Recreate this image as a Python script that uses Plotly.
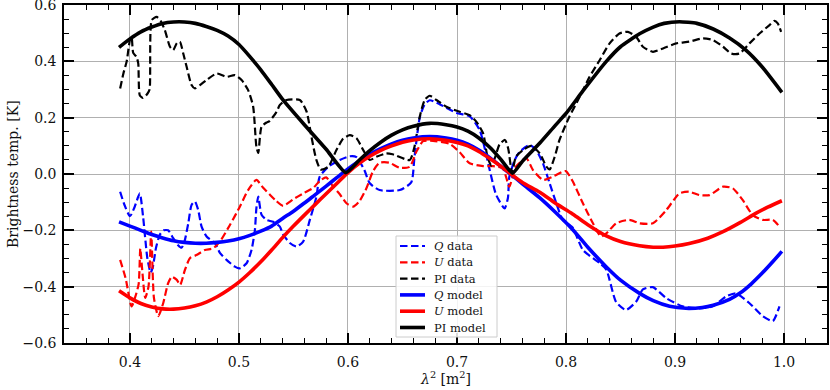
import plotly.graph_objects as go

# ---------------- data ----------------
q_data_x = [0.391, 0.395, 0.400, 0.404, 0.409, 0.412, 0.416, 0.419, 0.421, 0.424, 0.4275, 0.431, 0.435,
            0.4397, 0.444, 0.4473, 0.450, 0.4535, 0.4565, 0.4596, 0.4626, 0.4657, 0.4703, 0.478, 0.4825,
            0.4886, 0.4962, 0.5008, 0.507, 0.5115, 0.5146, 0.516, 0.5177, 0.5207, 0.5253, 0.5314, 0.5375,
            0.5405, 0.5467, 0.5528, 0.5589, 0.565, 0.5711, 0.574, 0.582, 0.5925, 0.6017, 0.6078, 0.615,
            0.620, 0.629, 0.6475, 0.658, 0.661, 0.6658, 0.670, 0.675, 0.684, 0.6995, 0.7116, 0.7208, 0.730,
            0.736, 0.7437, 0.7467, 0.748, 0.753, 0.7575, 0.7667, 0.7727, 0.7788, 0.785, 0.7911, 0.797,
            0.806, 0.8155, 0.831, 0.837, 0.846, 0.855, 0.8644, 0.8705, 0.8797, 0.892, 0.907, 0.9224,
            0.9347, 0.9469, 0.956, 0.9683, 0.9805, 0.9897, 0.9958]
q_data_y = [-0.063, -0.110, -0.150, -0.120, -0.069, -0.150, -0.300, -0.350, -0.330, -0.260, -0.215, -0.200, -0.200,
            -0.228, -0.252, -0.262, -0.240, -0.175, -0.110, -0.098, -0.128, -0.187, -0.222, -0.246, -0.280,
            -0.305, -0.329, -0.335, -0.317, -0.270, -0.199, -0.120, -0.080, -0.145, -0.163, -0.170, -0.187,
            -0.215, -0.245, -0.258, -0.240, -0.163, -0.080, -0.010, 0.026, 0.050, 0.063, 0.060, 0.014,
            -0.033, -0.057, -0.057, -0.030, 0.060, 0.200, 0.245, 0.262, 0.248, 0.217, 0.205, 0.156, 0.014,
            -0.075, -0.122, -0.085, -0.010, 0.050, 0.079, 0.103, 0.085, 0.038, -0.033, -0.104, -0.163,
            -0.190, -0.270, -0.317, -0.340, -0.455, -0.483, -0.453, -0.410, -0.402, -0.441, -0.470, -0.477,
            -0.470, -0.435, -0.424, -0.459, -0.505, -0.522, -0.470]

u_data_x = [0.391, 0.396, 0.4015, 0.405, 0.408, 0.4095, 0.411, 0.414, 0.417, 0.4195, 0.422, 0.426, 0.4305,
            0.435, 0.4384, 0.443, 0.446, 0.4504, 0.455, 0.461, 0.4687, 0.4764, 0.4825, 0.4917, 0.5008,
            0.5084, 0.516, 0.522, 0.528, 0.534, 0.5405, 0.5497, 0.5589, 0.568, 0.574, 0.580, 0.5864,
            0.5925, 0.5986, 0.6047, 0.6108, 0.617, 0.623, 0.629, 0.638, 0.6475, 0.6567, 0.6628, 0.669,
            0.678, 0.6933, 0.7025, 0.7116, 0.724, 0.733, 0.742, 0.745, 0.748, 0.754, 0.7636, 0.7697,
            0.779, 0.788, 0.797, 0.800, 0.806, 0.8155, 0.8247, 0.832, 0.837, 0.846, 0.858, 0.8675,
            0.8797, 0.892, 0.904, 0.913, 0.9224, 0.9316, 0.944, 0.953, 0.962, 0.9713, 0.9805, 0.9897, 0.9958]
u_data_y = [-0.305, -0.370, -0.470, -0.435, -0.390, -0.265, -0.330, -0.440, -0.400, -0.205, -0.440, -0.505, -0.459,
            -0.388, -0.365, -0.376, -0.394, -0.341, -0.299, -0.288, -0.270, -0.264, -0.240, -0.181, -0.116,
            -0.057, -0.021, -0.048, -0.072, -0.095, -0.113, -0.090, -0.069, -0.050, -0.025, -0.012, -0.045,
            -0.072, -0.104, -0.116, -0.095, -0.050, 0.010, 0.040, 0.040, 0.022, 0.026, 0.080, 0.117,
            0.118, 0.107, 0.077, 0.038, 0.028, 0.028, 0.020, -0.010, -0.045, 0.026, 0.056, 0.014,
            -0.021, -0.009, 0.008, 0.010, -0.025, -0.104, -0.175, -0.222, -0.211, -0.175, -0.163, -0.175,
            -0.175, -0.128, -0.069, -0.063, -0.075, -0.075, -0.045, -0.051, -0.092, -0.146, -0.163, -0.163, -0.187]

pi_data_x = [0.391, 0.394, 0.397, 0.400, 0.4015, 0.403, 0.406, 0.4076, 0.409, 0.412, 0.416, 0.418, 0.420,
             0.4245, 0.428, 0.432, 0.4367, 0.4397, 0.443, 0.4458, 0.4489, 0.452, 0.4565, 0.4596, 0.4642,
             0.4703, 0.4795, 0.4886, 0.4962, 0.5024, 0.5084, 0.513, 0.516, 0.5177, 0.5207, 0.5253, 0.528,
             0.5345, 0.5375, 0.5436, 0.5558, 0.562, 0.5665, 0.571, 0.575, 0.582, 0.5894, 0.5955, 0.6017,
             0.6078, 0.614, 0.620, 0.626, 0.635, 0.641, 0.6567, 0.661, 0.6658, 0.6704, 0.675, 0.681,
             0.6903, 0.7025, 0.7116, 0.7177, 0.724, 0.728, 0.7315, 0.735, 0.739, 0.744, 0.747, 0.7505,
             0.754, 0.7605, 0.768, 0.776, 0.782, 0.785, 0.7896, 0.794, 0.803, 0.8125, 0.8216, 0.831,
             0.840, 0.849, 0.8567, 0.8644, 0.8705, 0.8797, 0.889, 0.901, 0.913, 0.9255, 0.9347, 0.944,
             0.9515, 0.959, 0.9683, 0.9775, 0.9867, 0.9912, 0.9942, 0.9973]
pi_data_y = [0.304, 0.357, 0.400, 0.476, 0.487, 0.430, 0.416, 0.393, 0.280, 0.270, 0.285, 0.300, 0.547,
             0.558, 0.545, 0.511, 0.452, 0.440, 0.465, 0.470, 0.428, 0.381, 0.316, 0.304, 0.316,
             0.334, 0.357, 0.345, 0.351, 0.334, 0.298, 0.240, 0.097, 0.075, 0.168, 0.183, 0.188,
             0.221, 0.245, 0.263, 0.263, 0.222, 0.132, 0.050, 0.016, 0.026, 0.085, 0.125, 0.138,
             0.127, 0.085, 0.050, 0.061, 0.073, 0.070, 0.050, 0.097, 0.203, 0.263, 0.278, 0.263,
             0.239, 0.221, 0.209, 0.186, 0.144, 0.060, 0.030, 0.060, 0.105, 0.121, 0.090, 0.005,
             0.061, 0.085, 0.100, 0.073, 0.026, 0.016, 0.061, 0.121, 0.203, 0.274, 0.345, 0.405,
             0.464, 0.499, 0.505, 0.487, 0.452, 0.434, 0.446, 0.464, 0.470, 0.482, 0.476, 0.452,
             0.428, 0.428, 0.464, 0.499, 0.529, 0.544, 0.535, 0.505]

q_model_x = [0.39, 0.40, 0.41, 0.42, 0.43, 0.44, 0.45, 0.46, 0.47, 0.48, 0.49, 0.50, 0.51, 0.52, 0.53, 0.54,
             0.55, 0.56, 0.57, 0.58, 0.59, 0.60, 0.61, 0.62, 0.63, 0.64, 0.65, 0.66, 0.675, 0.69, 0.70,
             0.71, 0.72, 0.73, 0.74, 0.75, 0.76, 0.776, 0.79, 0.806, 0.82, 0.837, 0.85, 0.8675, 0.88,
             0.895, 0.91, 0.925, 0.935, 0.95, 0.96, 0.97, 0.98, 0.99, 0.998]
q_model_y = [-0.170, -0.185, -0.200, -0.215, -0.227, -0.237, -0.243, -0.246, -0.246, -0.243, -0.238, -0.230,
             -0.218, -0.203, -0.185, -0.158, -0.132, -0.103, -0.073, -0.043, -0.012, 0.018, 0.045, 0.070,
             0.090, 0.107, 0.120, 0.128, 0.133, 0.128, 0.120, 0.106, 0.085, 0.058, 0.028, -0.003, -0.035,
             -0.085, -0.135, -0.197, -0.260, -0.330, -0.377, -0.424, -0.450, -0.470, -0.477, -0.474,
             -0.466, -0.445, -0.422, -0.390, -0.352, -0.310, -0.275]

u_model_x = [0.39, 0.40, 0.41, 0.42, 0.43, 0.44, 0.45, 0.46, 0.47, 0.48, 0.49, 0.50, 0.51, 0.52, 0.53, 0.54,
             0.55, 0.56, 0.57, 0.58, 0.59, 0.60, 0.61, 0.62, 0.63, 0.64, 0.65, 0.66, 0.675, 0.69, 0.70,
             0.71, 0.72, 0.73, 0.74, 0.75, 0.76, 0.776, 0.79, 0.806, 0.82, 0.837, 0.85, 0.8675, 0.88,
             0.889, 0.90, 0.913, 0.93, 0.944, 0.96, 0.974, 0.985, 0.998]
u_model_y = [-0.415, -0.440, -0.460, -0.472, -0.479, -0.480, -0.476, -0.468, -0.455, -0.436, -0.412, -0.384,
             -0.350, -0.312, -0.270, -0.226, -0.185, -0.146, -0.108, -0.070, -0.033, 0.005, 0.037, 0.063,
             0.084, 0.100, 0.113, 0.121, 0.125, 0.120, 0.112, 0.100, 0.080, 0.055, 0.028, -0.002, -0.030,
             -0.065, -0.103, -0.142, -0.180, -0.220, -0.240, -0.255, -0.260, -0.260, -0.256, -0.247,
             -0.228, -0.205, -0.172, -0.140, -0.118, -0.095]

pi_model_x = [0.39, 0.40, 0.41, 0.42, 0.43, 0.44, 0.45, 0.46, 0.47, 0.48, 0.49, 0.50, 0.51, 0.52, 0.53, 0.54,
              0.56, 0.58, 0.598, 0.61, 0.62, 0.63, 0.64, 0.65, 0.66, 0.675, 0.69, 0.70, 0.71, 0.72, 0.73,
              0.74, 0.751, 0.76, 0.776, 0.79, 0.80, 0.8155, 0.837, 0.85, 0.8675, 0.88, 0.89, 0.904, 0.92,
              0.935, 0.95, 0.965, 0.98, 0.998]
pi_model_y = [0.450, 0.480, 0.505, 0.522, 0.535, 0.540, 0.540, 0.535, 0.524, 0.510, 0.490, 0.460, 0.417,
              0.370, 0.318, 0.265, 0.175, 0.088, 0.005, 0.048, 0.083, 0.113, 0.138, 0.157, 0.170, 0.180,
              0.175, 0.167, 0.152, 0.128, 0.095, 0.053, 0.003, 0.045, 0.110, 0.172, 0.215, 0.295, 0.400,
              0.452, 0.498, 0.522, 0.535, 0.541, 0.535, 0.515, 0.483, 0.440, 0.380, 0.290]

x_ticks = [0.4, 0.5, 0.6, 0.7, 0.8, 0.9, 1.0]
x_tick_text = ["0.4", "0.5", "0.6", "0.7", "0.8", "0.9", "1.0"]
y_ticks = [-0.6, -0.4, -0.2, 0.0, 0.2, 0.4, 0.6]
y_tick_text = ["\u22120.6", "\u22120.4", "\u22120.2", "0.0", "0.2", "0.4", "0.6"]

series_names = ["<i>Q</i> data", "<i>U</i> data", "PI data", "<i>Q</i> model", "<i>U</i> model", "PI model"]
series_colors = ["#0000ff", "#ff0000", "#000000", "#0000ff", "#ff0000", "#000000"]

# ---------------- figure ----------------
FONT = "DejaVu Serif"
TXT = "#111111"
DASH = "7.5px,3.5px"
W_DATA, W_MODEL = 2.2, 3.6

fig = go.Figure()

def add(x, y, name, color, width, dash=None, smooth=0.6):
    fig.add_trace(go.Scatter(
        x=x, y=y, mode="lines", name=name, showlegend=False, hoverinfo="skip",
        line=dict(color=color, width=width, dash=dash, shape="spline", smoothing=smooth),
    ))

add(q_data_x, q_data_y, series_names[0], series_colors[0], W_DATA, DASH)
add(u_data_x, u_data_y, series_names[1], series_colors[1], W_DATA, DASH)
add(pi_data_x, pi_data_y, series_names[2], series_colors[2], W_DATA, DASH)
add(q_model_x, q_model_y, series_names[3], series_colors[3], W_MODEL, None, 0.8)
add(u_model_x, u_model_y, series_names[4], series_colors[4], W_MODEL, None, 0.8)
add(pi_model_x, pi_model_y, series_names[5], series_colors[5], W_MODEL, None, 0.5)

axis_common = dict(
    showline=True, linecolor="black", linewidth=1.5, mirror="ticks",
    ticks="inside", ticklen=10, tickwidth=1.5, tickcolor="black",
    showgrid=True, gridcolor="#b0b0b0", gridwidth=1.2,
    zeroline=False, automargin=False, ticklabeloverflow="allow",
    tickfont=dict(family=FONT, size=14, color=TXT),
)

fig.update_xaxes(
    range=[0.3395, 1.0394], tickvals=x_ticks, ticktext=x_tick_text, ticklabelstandoff=5,
    minor=dict(dtick=0.02, tick0=0.4, ticks="inside", ticklen=5, tickwidth=1.2, tickcolor="black", showgrid=False),
    **axis_common,
)
fig.update_yaxes(
    range=[-0.6003, 0.6003], tickvals=y_ticks, ticktext=y_tick_text, ticklabelstandoff=3,
    minor=dict(dtick=0.05, tick0=0, ticks="inside", ticklen=5, tickwidth=1.2, tickcolor="black", showgrid=False),
    **axis_common,
)

# plot-area geometry in pixels (for legend / titles placement)
L, R, T, B = 64, 827, 5, 343
PW, PH = R - L, B - T
def px(x): return (x - L) / PW
def py(y): return (B - y) / PH

shapes = []
annotations = []
# legend box
shapes.append(dict(type="rect", xref="paper", yref="paper",
                   x0=px(396), x1=px(497), y0=py(337), y1=py(236),
                   line=dict(color="#cccccc", width=1), fillcolor="rgba(255,255,255,0.85)", layer="above"))
row_y = [246, 262.3, 278.6, 294.9, 311.2, 327.5]
for i, (nm, col) in enumerate(zip(series_names, series_colors)):
    is_data = i < 3
    shapes.append(dict(type="line", xref="paper", yref="paper",
                       x0=px(400), x1=px(425), y0=py(row_y[i]), y1=py(row_y[i]),
                       line=dict(color=col, width=W_DATA if is_data else W_MODEL,
                                 dash=DASH if is_data else "solid"), layer="above"))
    annotations.append(dict(xref="paper", yref="paper", x=px(432), y=py(row_y[i]),
                            xanchor="left", yanchor="middle", showarrow=False, text=nm,
                            font=dict(family=FONT, size=11.5, color=TXT)))

# axis titles
annotations.append(dict(xref="paper", yref="paper", x=px(445), y=py(378), xanchor="center", yanchor="middle",
                        showarrow=False, text="<i>λ</i><sup>2</sup> [m<sup>2</sup>]",
                        font=dict(family=FONT, size=14, color=TXT)))
annotations.append(dict(xref="paper", yref="paper", x=px(13), y=py(174), xanchor="center", yanchor="middle",
                        showarrow=False, text="Brightness temp. [K]", textangle=-90,
                        font=dict(family=FONT, size=14, color=TXT)))

fig.update_layout(
    width=830, height=390,
    margin=dict(l=L, r=830 - R, t=T, b=390 - B),
    paper_bgcolor="white", plot_bgcolor="white",
    showlegend=False,
    shapes=shapes, annotations=annotations,
)

fig.write_html(
    "out.html",
    config={"displayModeBar": False},
    post_script="document.body.style.margin='0';document.body.style.padding='0';document.body.style.overflow='hidden';",
)
